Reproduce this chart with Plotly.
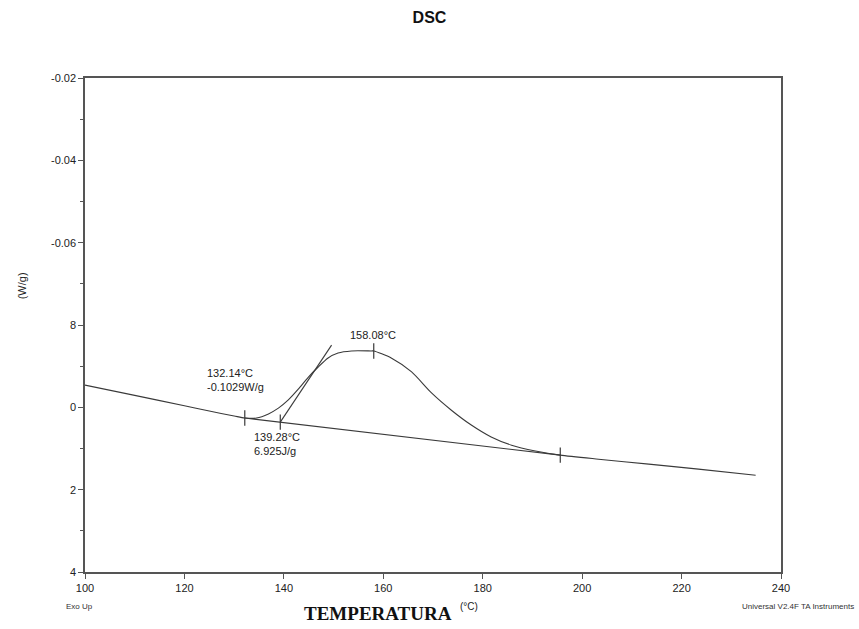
import plotly.graph_objects as go

# DSC curve (temperature °C, heat flow W/g)
curve_T = [100.0, 110.0, 120.0, 125.0, 130.0, 132.14, 134.5, 136.9, 138.9, 140.9, 142.9,
           144.9, 146.9, 148.9, 150.9, 153.6, 157.6, 158.08, 161.6, 165.7, 169.7,
           173.7, 177.7, 181.7, 185.8, 190.6, 195.6, 203.3, 213.4, 223.4, 234.9]
curve_W = [-0.0946, -0.0971, -0.0996, -0.1009, -0.1021, -0.1026, -0.1026, -0.1016, -0.1002,
           -0.0982, -0.0956, -0.0927, -0.0902, -0.0880, -0.0868, -0.0863, -0.0863, -0.0863,
           -0.0880, -0.0914, -0.0965, -0.1007, -0.1043, -0.1072, -0.1092, -0.1106,
           -0.1116, -0.1126, -0.1138, -0.1150, -0.1165]

# integration baseline
base_T = [132.14, 195.6]
base_W = [-0.1026, -0.1116]

# onset tangent
tan_T = [139.28, 149.6]
tan_W = [-0.1036, -0.0849]

# marked points
mark_T = [132.14, 139.28, 158.08, 195.6]
mark_W = [-0.1026, -0.1036, -0.0863, -0.1116]

y_ticks = [-0.02, -0.04, -0.06, -0.08, -0.10, -0.12, -0.14]
y_labels = ["-0.02", "-0.04", "-0.06", "8", "0", "2", "4"]
x_ticks = [100, 120, 140, 160, 180, 200, 220, 240]

lc = "#3a3a3a"
sans = "Arial, Liberation Sans, sans-serif"
fig = go.Figure()
fig.add_trace(go.Scatter(x=curve_T, y=curve_W, mode="lines",
                         line=dict(color=lc, width=1.1, shape="spline", smoothing=0.7),
                         hoverinfo="skip"))
fig.add_trace(go.Scatter(x=base_T, y=base_W, mode="lines",
                         line=dict(color=lc, width=1.1), hoverinfo="skip"))
fig.add_trace(go.Scatter(x=tan_T, y=tan_W, mode="lines",
                         line=dict(color=lc, width=1.1), hoverinfo="skip"))
fig.add_trace(go.Scatter(x=mark_T, y=mark_W, mode="markers",
                         marker=dict(symbol="line-ns", size=11,
                                     line=dict(color=lc, width=1.2)),
                         hoverinfo="skip"))

tf = dict(family=sans, size=11, color="#222")
# point labels (offset in pixels from the marked points)
fig.add_annotation(x=132.14, y=-0.1029, xref="x", yref="y", ax=-40, ay=-39,
                   xanchor="left",
                   text="132.14°C<br>-0.1029W/g", showarrow=True, arrowcolor="rgba(0,0,0,0)",
                   align="left", font=tf)
fig.add_annotation(x=139.28, y=-0.1036, xref="x", yref="y", ax=-28, ay=7,
                   xanchor="left", yanchor="top",
                   text="139.28°C<br>6.925J/g", showarrow=True, arrowcolor="rgba(0,0,0,0)",
                   align="left", font=tf)
fig.add_annotation(x=158.08, y=-0.0863, xref="x", yref="y", ax=-1, ay=-16,
                   text="158.08°C", showarrow=True, arrowcolor="rgba(0,0,0,0)", font=tf)

fig.add_annotation(x=-0.09, y=0.579, xref="paper", yref="paper", xanchor="center", yanchor="middle",
                   text="(W/g)", textangle=-90,
                   showarrow=False, font=dict(family=sans, size=11, color="#222"))
fig.add_annotation(x=-0.030, y=-0.069, xref="paper", yref="paper", xanchor="left", yanchor="middle",
                   text="Exo Up",
                   showarrow=False, font=dict(family=sans, size=8, color="#333"))
fig.add_annotation(x=1.108, y=-0.069, xref="paper", yref="paper", xanchor="right", yanchor="middle",
                   text="Universal V2.4F TA Instruments",
                   showarrow=False, font=dict(family=sans, size=8, color="#333"))
fig.add_annotation(x=0.421, y=-0.083, xref="paper", yref="paper", xanchor="center", yanchor="middle",
                   text="<b>TEMPERATURA</b>",
                   showarrow=False, font=dict(family="Liberation Serif, DejaVu Serif, serif", size=19, color="#111"))
fig.add_annotation(x=0.552, y=-0.069, xref="paper", yref="paper", xanchor="center", yanchor="middle",
                   text="(°C)",
                   showarrow=False, font=dict(family=sans, size=10, color="#222"))

fig.update_layout(
    width=859, height=629,
    margin=dict(l=85, r=78, t=78, b=57),
    paper_bgcolor="white", plot_bgcolor="white",
    showlegend=False,
    title=dict(text="<b>DSC</b>", x=0.5, xanchor="center", y=0.973, yanchor="middle",
               font=dict(family=sans, size=16, color="#111")),
    xaxis=dict(range=[100, 240], tickvals=x_ticks, ticks="outside", ticklen=5,
               tickcolor="#555", showline=True, linecolor="#555", linewidth=1.5,
               mirror=True, showgrid=False, zeroline=False,
               tickfont=dict(family=sans, size=11, color="#222")),
    yaxis=dict(range=[-0.14, -0.02], tickvals=y_ticks, ticktext=y_labels,
               ticks="outside", ticklen=5, tickcolor="#555",
               minor=dict(dtick=0.01, tick0=-0.02, ticks="outside", ticklen=3, tickcolor="#555"),
               showline=True, linecolor="#555", linewidth=1.5, mirror=True,
               showgrid=False, zeroline=False,
               tickfont=dict(family=sans, size=11, color="#222")),
)

fig.write_html("out.html")
